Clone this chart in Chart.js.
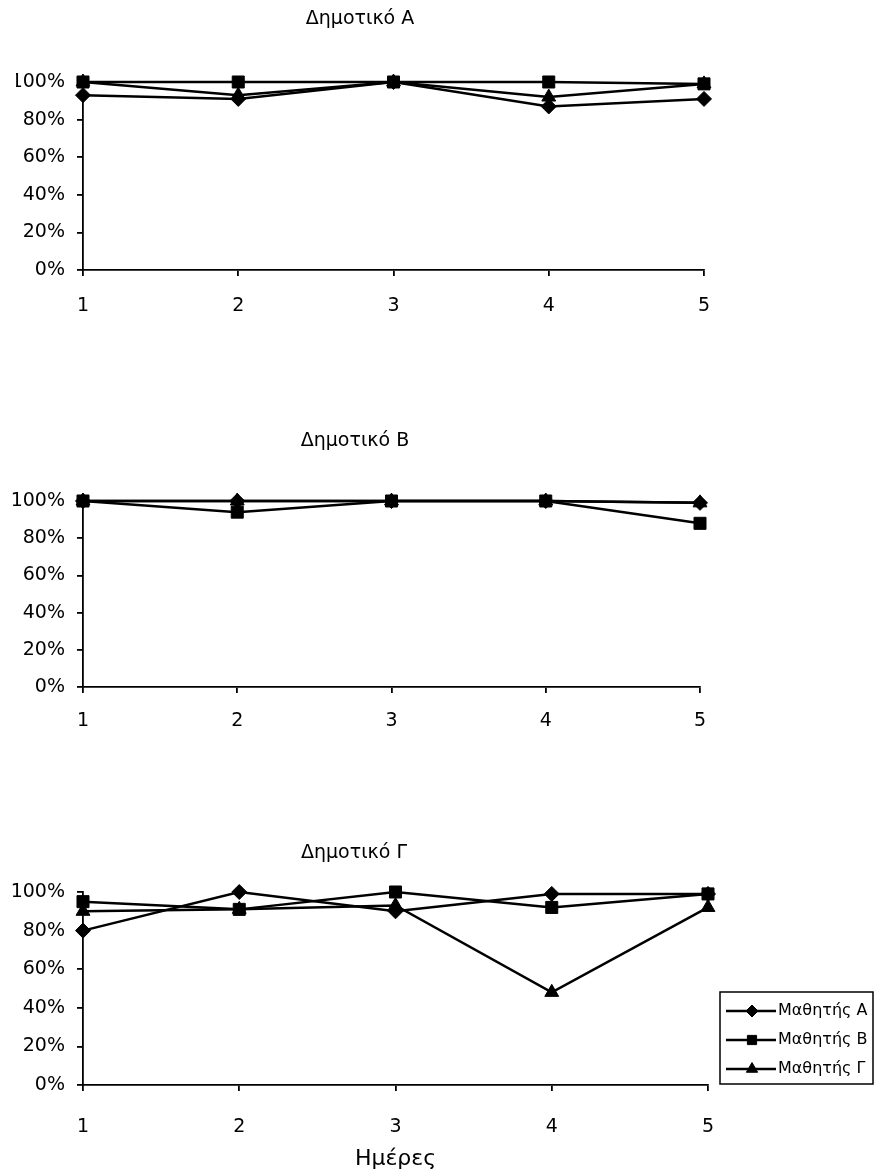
<!DOCTYPE html>
<html>
<head>
<meta charset="utf-8">
<script src="https://cdn.jsdelivr.net/npm/chart.js@4.4.1/dist/chart.umd.min.js"></script>
<style>
  body { margin: 0; background: #fff; }
  #page { position: relative; width: 875px; height: 1174px; }
  canvas { position: absolute; left: 0; }
</style>
</head>
<body>
<div id="page">
  <canvas id="chartA" width="760" height="340" style="top:0px"></canvas>
  <canvas id="chartB" width="760" height="340" style="top:400px"></canvas>
  <canvas id="chartC" width="875" height="364" style="top:810px"></canvas>
</div>
<script>
const FONT = '"DejaVu Sans", Arial, sans-serif';

// Ejes
const days = ['1', '2', '3', '4', '5'];
const yTicks = [0, 20, 40, 60, 80, 100];
const students = ['Μαθητής Α', 'Μαθητής Β', 'Μαθητής Γ'];
const markers = ['rectRot', 'rect', 'triangle'];

// Δημοτικό Α
const dimA_mathA = [93, 91, 100, 87, 91];
const dimA_mathB = [100, 100, 100, 100, 99];
const dimA_mathG = [100, 93, 100, 92, 99];

// Δημοτικό Β
const dimB_mathA = [100, 100, 100, 100, 99];
const dimB_mathB = [100, 94, 100, 100, 88];
const dimB_mathG = [100, 100, 100, 100, 99];

// Δημοτικό Γ
const dimG_mathA = [80, 100, 90, 99, 99];
const dimG_mathB = [95, 91, 100, 92, 99];
const dimG_mathG = [90, 91, 93, 48, 92];

// Dibuja un marcador (usa el helper de Chart.js si existe)
function drawMarker(ctx, style, r, x, y) {
    if (Chart.helpers && Chart.helpers.drawPoint) {
        Chart.helpers.drawPoint(ctx, {pointStyle: style, radius: r, borderWidth: 1, rotation: 0}, x, y);
        return;
    }
    ctx.beginPath();
    if (style === 'rectRot') {
        ctx.moveTo(x, y - r); ctx.lineTo(x + r, y); ctx.lineTo(x, y + r); ctx.lineTo(x - r, y);
    } else if (style === 'rect') {
        const s = r / Math.SQRT2;
        ctx.rect(x - s, y - s, 2 * s, 2 * s);
    } else {
        ctx.moveTo(x, y - r); ctx.lineTo(x + r * 0.87, y + r * 0.5); ctx.lineTo(x - r * 0.87, y + r * 0.5);
    }
    ctx.closePath();
    ctx.fill();
    ctx.stroke();
}

// Leyenda con recuadro, linea y marcador
const legendBox = {
    id: 'legendBox',
    afterDraw(chart, args, opts) {
        if (!opts || !opts.show) return;
        const ctx = chart.ctx;
        ctx.save();
        ctx.strokeStyle = '#000';
        ctx.fillStyle = '#000';
        ctx.lineWidth = 1.5;
        ctx.strokeRect(opts.x, opts.y, opts.w, opts.h);
        ctx.font = '16px ' + FONT;
        ctx.textBaseline = 'middle';
        chart.data.datasets.forEach((ds, i) => {
            const cy = opts.firstY + i * opts.step;
            ctx.lineWidth = 2.5;
            ctx.beginPath();
            ctx.moveTo(opts.x + 6, cy);
            ctx.lineTo(opts.x + 56, cy);
            ctx.stroke();
            ctx.lineWidth = 1;
            drawMarker(ctx, ds.pointStyle, opts.radius[i], opts.x + 32, cy);
            ctx.fillText(ds.label, opts.x + 58, cy);
        });
        ctx.restore();
    }
};

function buildChart(id, title, series, g) {
    const canvas = document.getElementById(id);
    const W = canvas.width, H = canvas.height;
    const datasets = series.map((data, i) => ({
        label: students[i],
        data: data,
        order: [2, 0, 1][i], // cuadrados arriba, luego triangulos, luego rombos
        pointStyle: markers[i],
        pointRadius: [7.5, 8.5, 8][i],
        borderColor: '#000',
        backgroundColor: '#000',
        pointBackgroundColor: '#000',
        pointBorderColor: '#000',
        pointBorderWidth: 1,
        borderWidth: 2.5,
        tension: 0,
        clip: false
    }));
    const tickFont = {family: FONT, size: 19};
    const axisGrid = {display: true, drawOnChartArea: false, drawTicks: true, tickLength: 6, color: '#000', lineWidth: 1.8};

    return new Chart(canvas.getContext('2d'), {
        type: 'line',
        data: {labels: days, datasets: datasets},
        options: {
            responsive: false,
            animation: false,
            layout: {padding: {left: g.padLeft, right: W - g.right, top: 0, bottom: 0}},
            plugins: {
                legend: {display: false},
                tooltip: {enabled: false},
                title: {
                    display: true,
                    text: title,
                    color: '#000',
                    font: {family: FONT, size: 19, weight: 'normal', lineHeight: 1.2},
                    padding: {top: g.titleY - 11.4, bottom: g.top - g.titleY - 11.4}
                },
                legendBox: g.legend || {show: false}
            },
            scales: {
                x: {
                    offset: false,
                    grid: axisGrid,
                    border: {color: '#000', width: 1.8},
                    ticks: {color: '#000', font: tickFont, padding: g.xPad, maxRotation: 0},
                    title: g.xTitle ? {
                        display: true, text: g.xTitle, color: '#000',
                        font: {family: FONT, size: 22, lineHeight: 1.2},
                        padding: {top: 0, bottom: g.xTitlePad}
                    } : {display: false},
                    afterFit: s => { s.height = H - g.bottom; }
                },
                y: {
                    min: 0,
                    max: 100,
                    grid: axisGrid,
                    border: {color: '#000', width: 1.8},
                    afterBuildTicks: axis => { axis.ticks = yTicks.map(v => ({value: v})); },
                    ticks: {color: '#000', font: tickFont, padding: 12, callback: v => v + '%'},
                    afterFit: s => { s.width = 83 - g.padLeft; }
                }
            }
        },
        plugins: [legendBox]
    });
}

buildChart('chartA', 'Δημοτικό Α', [dimA_mathA, dimA_mathB, dimA_mathG],
    {padLeft: 16, right: 704, top: 82, bottom: 270, titleY: 19, xPad: 18.5});

buildChart('chartB', 'Δημοτικό Β', [dimB_mathA, dimB_mathB, dimB_mathG],
    {padLeft: 10, right: 700, top: 101, bottom: 287, titleY: 41, xPad: 17});

buildChart('chartC', 'Δημοτικό Γ', [dimG_mathA, dimG_mathB, dimG_mathG],
    {padLeft: 0, right: 708, top: 82, bottom: 275, titleY: 43, xPad: 24.6,
     xTitle: 'Ημέρες', xTitlePad: 1.5,
     legend: {show: true, x: 720, y: 182, w: 153, h: 92, firstY: 201, step: 29, radius: [6, 6.5, 6.5]}});
</script>
</body>
</html>
